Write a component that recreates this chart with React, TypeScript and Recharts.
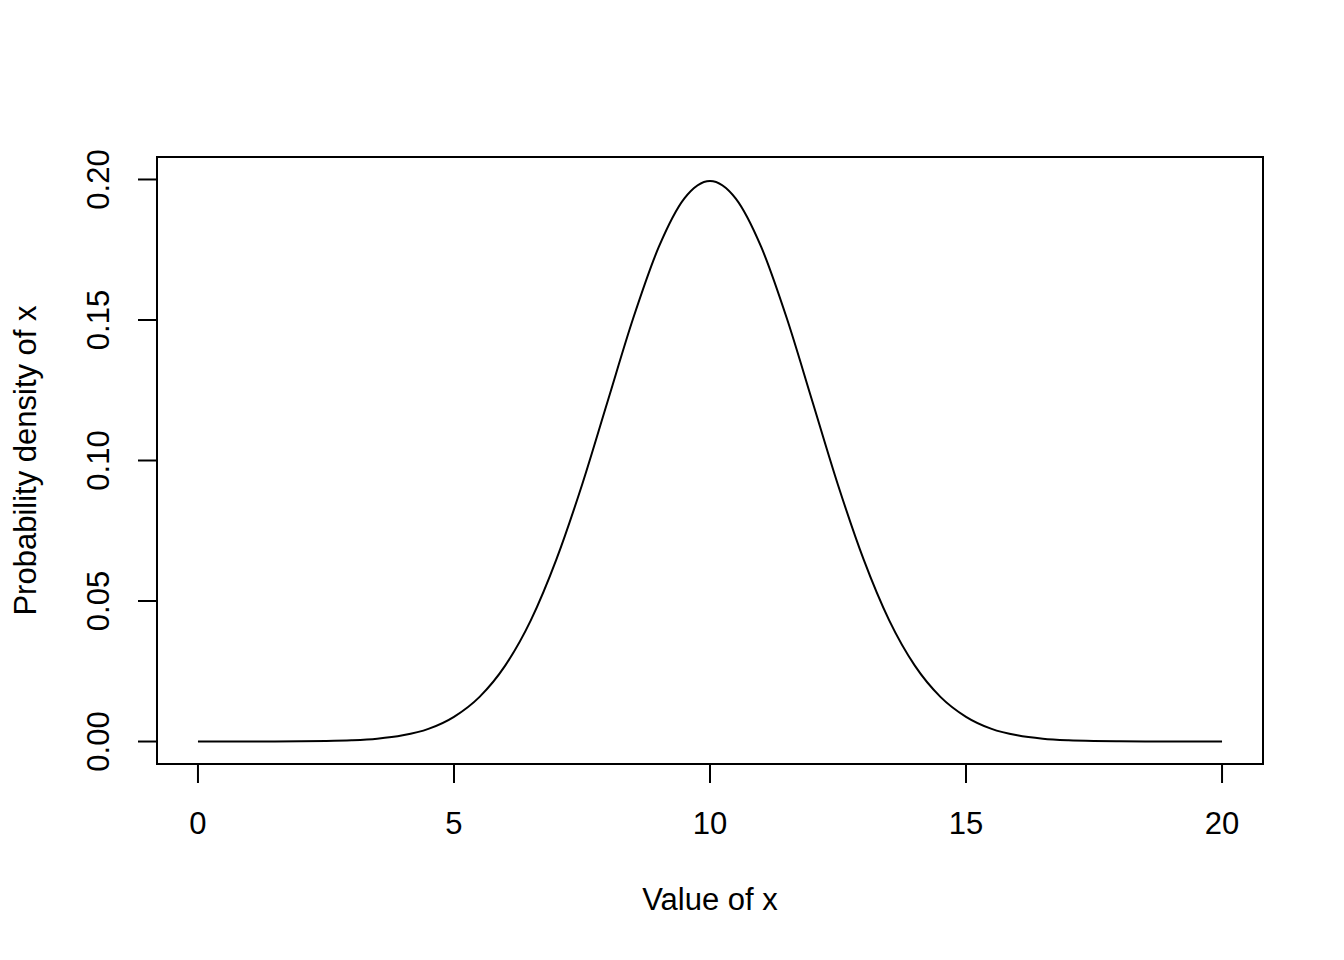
import { LineChart, Line, XAxis, YAxis, ReferenceArea, Label } from "recharts";

// x values along the curve, 0 to 20 in half steps
const xValues = [
  0, 0.5, 1, 1.5, 2, 2.5, 3, 3.5, 4, 4.5, 5, 5.5, 6, 6.5, 7, 7.5, 8, 8.5, 9, 9.5,
  10, 10.5, 11, 11.5, 12, 12.5, 13, 13.5, 14, 14.5, 15, 15.5, 16, 16.5, 17, 17.5,
  18, 18.5, 19, 19.5, 20,
];

// density
const density = [
  0.0000007, 0.0000024, 0.0000079, 0.000024, 0.000067, 0.00018, 0.00044, 0.0010,
  0.0022, 0.0045, 0.0088, 0.0159, 0.0270, 0.0431, 0.0648, 0.0913, 0.1210, 0.1506,
  0.1760, 0.1933, 0.1995, 0.1933, 0.1760, 0.1506, 0.1210, 0.0913, 0.0648, 0.0431,
  0.0270, 0.0159, 0.0088, 0.0045, 0.0022, 0.0010, 0.00044, 0.00018, 0.000067,
  0.000024, 0.0000079, 0.0000024, 0.0000007,
];

const xTicks = [0, 5, 10, 15, 20];
const yTicks = [0, 0.05, 0.1, 0.15, 0.2];
const yTickLabels = ["0.00", "0.05", "0.10", "0.15", "0.20"];

const FONT = '"Liberation Sans", Arial, sans-serif';
const FONT_SIZE = 31;

const chartData = xValues.map((x, i) => ({ x, y: density[i] }));

function XTick({ x, y, payload }: any) {
  return (
    <text x={x} y={y + 49} textAnchor="middle" fontFamily={FONT} fontSize={FONT_SIZE} fill="#000">
      {payload.value}
    </text>
  );
}

function YTick({ x, y, payload, index }: any) {
  const bx = x - 27;
  return (
    <text
      x={bx}
      y={y}
      transform={`rotate(-90, ${bx}, ${y})`}
      textAnchor="middle"
      fontFamily={FONT}
      fontSize={FONT_SIZE}
      fill="#000"
    >
      {yTickLabels[index] ?? payload.value}
    </text>
  );
}

export default function App() {
  return (
    <div style={{ position: "absolute", left: 0, top: 0, background: "#fff" }}>
      <LineChart width={1344} height={960} data={chartData} margin={{ top: 157, right: 81, bottom: 0, left: 0 }}>
        <XAxis
          dataKey="x"
          type="number"
          domain={[-0.8, 20.8]}
          ticks={xTicks}
          axisLine={false}
          tickLine={{ stroke: "#000", strokeWidth: 2 }}
          tickSize={19}
          height={196}
          tick={<XTick />}
          interval={0}
        >
          <Label
            content={({ viewBox }: any) => (
              <text
                x={viewBox.x + viewBox.width / 2}
                y={viewBox.y + 146}
                textAnchor="middle"
                fontFamily={FONT}
                fontSize={FONT_SIZE}
                fill="#000"
              >
                Value of x
              </text>
            )}
          />
        </XAxis>
        <YAxis
          type="number"
          domain={[-0.008, 0.208]}
          ticks={yTicks}
          axisLine={false}
          tickLine={{ stroke: "#000", strokeWidth: 2 }}
          tickSize={19}
          width={157}
          tick={<YTick />}
          interval={0}
        >
          <Label
            content={({ viewBox }: any) => {
              const cx = 36;
              const cy = viewBox.y + viewBox.height / 2;
              return (
                <text
                  x={cx}
                  y={cy}
                  transform={`rotate(-90, ${cx}, ${cy})`}
                  textAnchor="middle"
                  fontFamily={FONT}
                  fontSize={FONT_SIZE}
                  fill="#000"
                >
                  Probability density of x
                </text>
              );
            }}
          />
        </YAxis>
        <ReferenceArea
          x1={-0.8}
          x2={20.8}
          y1={-0.008}
          y2={0.208}
          fill="none"
          fillOpacity={0}
          stroke="#000"
          strokeWidth={2}
          ifOverflow="visible"
        />
        <Line
          type="monotone"
          dataKey="y"
          stroke="#000"
          strokeWidth={2}
          dot={false}
          isAnimationActive={false}
        />
      </LineChart>
    </div>
  );
}
